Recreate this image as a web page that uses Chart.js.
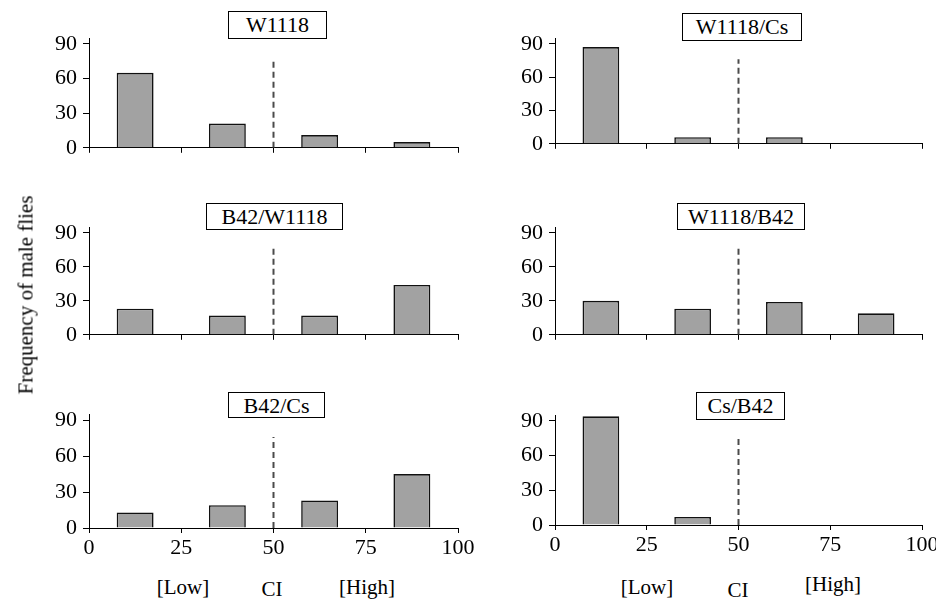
<!DOCTYPE html>
<html>
<head>
<meta charset="utf-8">
<script src="https://cdn.jsdelivr.net/npm/chart.js@4.4.1/dist/chart.umd.min.js"></script>
<style>
  html, body { margin: 0; padding: 0; background: #fff; }
  #root { position: relative; width: 936px; height: 600px; overflow: hidden; font-family: "Liberation Serif", "DejaVu Serif", serif; color: #000; }
  .panel { position: absolute; }
  .ttl { position: absolute; border: 1px solid #000; background: #fff; font-size: 22px; line-height: 25px; text-align: center; box-sizing: border-box; white-space: nowrap; }
  .lab { position: absolute; font-size: 21px; line-height: 24px; transform: translate(-50%, -50%); white-space: nowrap; }
  #ylab { position: absolute; font-size: 21px; white-space: nowrap; left: 26px; top: 295px; transform: translate(-50%, -50%) rotate(-90deg); }
</style>
</head>
<body>
<div id="root"></div>
<script>
// ---- data ----
const categories = ['W1118', 'W1118/Cs', 'B42/W1118', 'W1118/B42', 'B42/Cs', 'Cs/B42'];
const binCenters = [12.5, 37.5, 62.5, 87.5];
const w1118     = [65, 21, 11, 5];
const w1118Cs   = [87, 6, 6, 0];
const b42W1118  = [23, 17, 17, 44];
const w1118B42  = [30, 23, 29, 19];
const b42Cs     = [13, 19, 23, 45];
const csB42     = [94, 7, 0, 0];
const xTicks = [0, 25, 50, 75, 100];
const yTicks = [0, 30, 60, 90];
const ciThreshold = 50;
const ciLineTop = 76;
const ciLabels = ['[Low]', 'CI', '[High]'];
const yAxisTitle = 'Frequency of male flies';

const seriesList = [w1118, w1118Cs, b42W1118, w1118B42, b42Cs, csB42];

// ---- layout (positions only) ----
const layout = [
  { x0: 89,  x1: 458, top: 34,  base: 152, bottomRow: false, box: [228, 11, 99, 28] },
  { x0: 555, x1: 922, top: 34,  base: 148, bottomRow: false, box: [682, 13, 120, 28] },
  { x0: 89,  x1: 458, top: 223, base: 339, bottomRow: false, box: [206, 203, 137, 27] },
  { x0: 555, x1: 922, top: 223, base: 339, bottomRow: false, box: [677, 203, 128, 27] },
  { x0: 89,  x1: 458, top: 410, base: 528, bottomRow: true,  box: [228, 392, 97, 26] },
  { x0: 555, x1: 922, top: 411, base: 525, bottomRow: true,  box: [696, 392, 89, 28] }
];
const labPos = [
  [[183, 587], [272, 589], [367, 587]],
  [[647, 587], [738, 590], [833, 584]]
];

const root = document.getElementById('root');
const LEFT = 60, RIGHT = 30, TOP = 15, BOT = 5;
const tickFont = { family: '"Liberation Serif", serif', size: 22 };

seriesList.forEach((vals, i) => {
  const L = layout[i];
  const xh = L.bottomRow ? 40 : 10;
  const div = document.createElement('div');
  div.className = 'panel';
  const w = (L.x1 - L.x0) + LEFT + RIGHT;
  const h = TOP + (L.base - L.top) + xh + BOT;
  div.style.left = (L.x0 - LEFT) + 'px';
  div.style.top = (L.top - TOP) + 'px';
  div.style.width = w + 'px';
  div.style.height = h + 'px';
  const cv = document.createElement('canvas');
  div.appendChild(cv);
  root.appendChild(div);

  new Chart(cv, {
    type: 'bar',
    data: {
      datasets: [
        {
          type: 'bar',
          data: binCenters.map((c, k) => ({ x: c, y: vals[k] })),
          backgroundColor: '#a2a2a2',
          borderColor: '#111',
          borderWidth: 1.6,
          categoryPercentage: 1,
          barPercentage: 0.4,
          order: 2
        },
        {
          type: 'line',
          data: [{ x: ciThreshold, y: 0 }, { x: ciThreshold, y: ciLineTop }],
          borderColor: '#4a4a4a',
          borderWidth: 2,
          borderDash: [6, 4],
          pointRadius: 0,
          fill: false,
          order: 1
        }
      ]
    },
    options: {
      responsive: true,
      maintainAspectRatio: false,
      animation: false,
      events: [],
      layout: { padding: { left: 0, right: RIGHT, top: TOP, bottom: BOT } },
      plugins: { legend: { display: false }, tooltip: { enabled: false }, title: { display: false } },
      scales: {
        x: {
          type: 'linear',
          min: 0, max: 100,
          offset: false,
          afterBuildTicks: (ax) => { ax.ticks = xTicks.map(v => ({ value: v })); },
          afterFit: (ax) => { ax.height = xh; },
          grid: { display: true, drawOnChartArea: false, drawTicks: true, tickLength: 5, color: '#000', lineWidth: 1, offset: false },
          border: { display: true, color: '#000', width: 1 },
          ticks: {
            display: L.bottomRow,
            color: '#000',
            padding: 2,
            maxRotation: 0,
            autoSkip: false,
            font: tickFont
          }
        },
        y: {
          min: 0, max: 95,
          afterBuildTicks: (ax) => { ax.ticks = yTicks.map(v => ({ value: v })); },
          afterFit: (ax) => { ax.width = LEFT; },
          grid: { display: true, drawOnChartArea: false, drawTicks: true, tickLength: 6, color: '#000', lineWidth: 1 },
          border: { display: true, color: '#000', width: 1 },
          ticks: {
            color: '#000',
            padding: 6,
            font: tickFont
          }
        }
      }
    }
  });

  const t = document.createElement('div');
  t.className = 'ttl';
  t.textContent = categories[i];
  t.style.left = L.box[0] + 'px';
  t.style.top = L.box[1] + 'px';
  t.style.width = L.box[2] + 'px';
  t.style.height = L.box[3] + 'px';
  root.appendChild(t);
});

labPos.forEach(col => {
  col.forEach((p, k) => {
    const d = document.createElement('div');
    d.className = 'lab';
    d.textContent = ciLabels[k];
    d.style.left = p[0] + 'px';
    d.style.top = p[1] + 'px';
    root.appendChild(d);
  });
});

const yl = document.createElement('div');
yl.id = 'ylab';
yl.textContent = yAxisTitle;
root.appendChild(yl);
</script>
</body>
</html>
